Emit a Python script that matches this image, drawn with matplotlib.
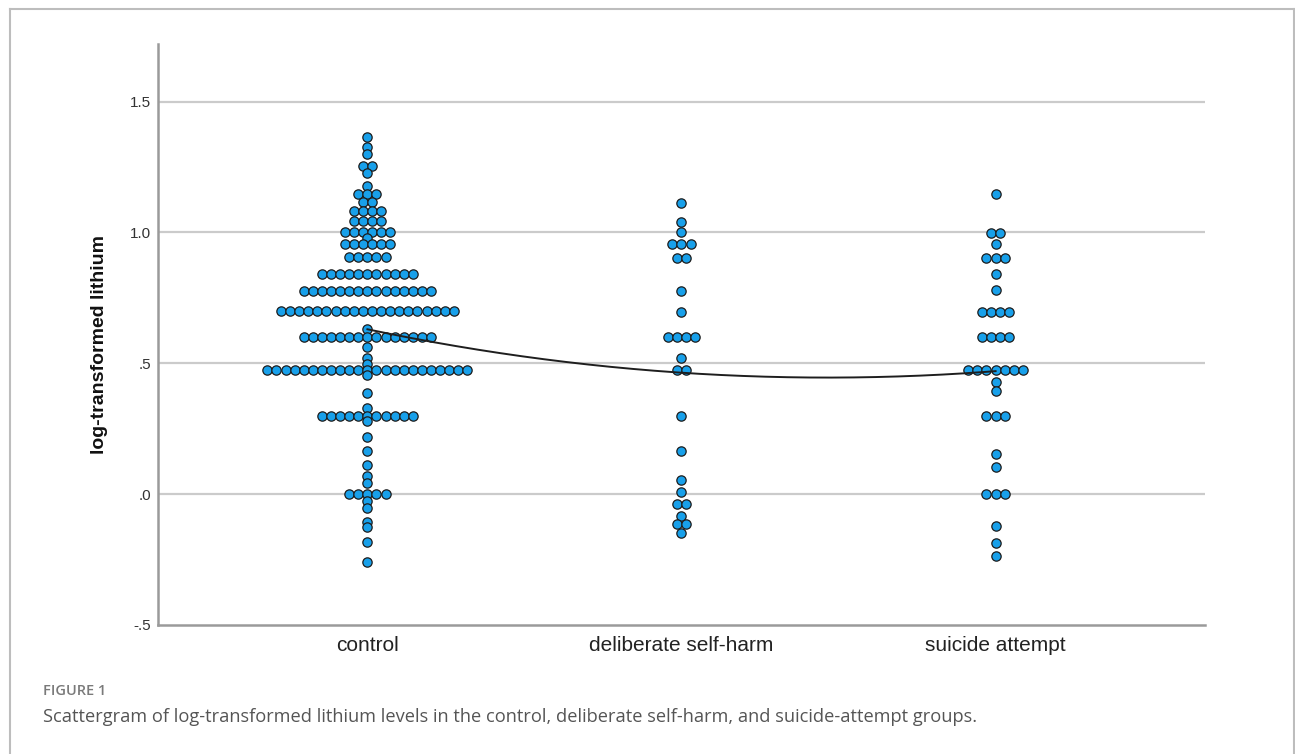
import numpy as np
import matplotlib
matplotlib.use("Agg")
import matplotlib.pyplot as plt
from matplotlib.lines import Line2D

# ---------------- data ----------------
categories = ["control", "deliberate self-harm", "suicide attempt"]

control_values = [1.363, 1.327, 1.301, 1.254, 1.229, 1.178, 1.146, 1.117, 1.083, 1.044,
                  1.000, 0.977, 0.954, 0.905, 0.843, 0.776, 0.700, 0.630, 0.602, 0.563,
                  0.519, 0.497, 0.474, 0.455, 0.385, 0.328, 0.299, 0.280, 0.218, 0.165,
                  0.112, 0.070, 0.044, 0.000, -0.028, -0.053, -0.108, -0.124, -0.181, -0.261]
control_counts = [1, 1, 1, 2, 1, 1, 3, 2, 4, 4,
                  6, 1, 6, 5, 11, 15, 20, 1, 15, 1,
                  1, 1, 23, 1, 1, 1, 11, 1, 1, 1,
                  1, 1, 1, 5, 1, 1, 1, 1, 1, 1]

selfharm_values = [1.113, 1.040, 1.000, 0.954, 0.901, 0.777, 0.697, 0.602, 0.521, 0.474,
                   0.299, 0.166, 0.055, 0.010, -0.037, -0.085, -0.115, -0.149]
selfharm_counts = [1, 1, 1, 3, 2, 1, 1, 4, 1, 2,
                   1, 1, 1, 1, 2, 1, 2, 1]

suicide_values = [1.145, 0.999, 0.955, 0.901, 0.841, 0.780, 0.697, 0.602, 0.474, 0.430,
                  0.395, 0.299, 0.154, 0.105, 0.001, -0.121, -0.185, -0.235]
suicide_counts = [1, 2, 1, 3, 1, 1, 4, 4, 7, 1,
                  1, 3, 1, 1, 3, 1, 1, 1]

group_means = [0.630, 0.464, 0.470]   # interpolation line through group means

yticks = [-0.5, 0.0, 0.5, 1.0, 1.5]
ytick_labels = ["-.5", ".0", ".5", "1.0", "1.5"]

# ---------------- figure ----------------
W, H, DPI = 1295, 754, 100
fig = plt.figure(figsize=(W / DPI, H / DPI), dpi=DPI)
fig.patch.set_facecolor("white")

ax_l, ax_r, ax_t, ax_b = 158, 1205, 44, 625
ax = fig.add_axes([ax_l / W, 1 - ax_b / H, (ax_r - ax_l) / W, (ax_b - ax_t) / H])

xlim = (1 - 1 / 0.3 * 0.2, 1 - 1 / 0.3 * 0.2 + 1 / 0.3)
ax.set_xlim(*xlim)
ax.set_ylim(-0.5, 1.72)

# gridlines
for yv in yticks[1:]:
    ax.axhline(yv, color="#cbcbcb", lw=1.6, zorder=0)

# dots
dot_px = 9.1
spacing = dot_px * (xlim[1] - xlim[0]) / (ax_r - ax_l)
groups = [(control_values, control_counts),
          (selfharm_values, selfharm_counts),
          (suicide_values, suicide_counts)]
for gi, (vals, cnts) in enumerate(groups):
    xs, ys = [], []
    for v, n in zip(vals, cnts):
        offs = (np.arange(n) - (n - 1) / 2) * spacing
        xs.extend(gi + 1 + offs)
        ys.extend([v] * n)
    ax.plot(xs, ys, "o", ms=6.7, mfc="#18a0ea", mec="#1c1c1c", mew=0.9,
            ls="none", zorder=3)

# interpolation line through the group means
xpos = np.arange(1, len(group_means) + 1)
coef = np.polyfit(xpos, group_means, 2)
xx = np.linspace(1, 3, 200)
ax.plot(xx, np.polyval(coef, xx), color="#1e1e1e", lw=1.4, zorder=4)

# axes styling
for s in ["top", "right"]:
    ax.spines[s].set_visible(False)
for s in ["left", "bottom"]:
    ax.spines[s].set_color("#9a9a9a")
    ax.spines[s].set_linewidth(1.8)
ax.set_yticks(yticks)
ax.set_yticklabels(ytick_labels, fontsize=11, color="#333333", family="Liberation Sans")
ax.set_xticks(xpos)
ax.set_xticklabels(categories, fontsize=15, color="#222222", family="Liberation Sans")
ax.tick_params(axis="y", length=0, pad=5)
ax.tick_params(axis="x", length=0, pad=8)

fig.text(100 / W, 1 - 345 / H, "log-transformed lithium", rotation=90,
         ha="center", va="center", fontsize=14, fontweight="bold",
         family="Liberation Sans", color="#111111")

# outer frame
frame_c = "#bdbdbd"
fig.add_artist(Line2D([10 / W, 10 / W], [0, 1 - 9 / H], transform=fig.transFigure,
                      color=frame_c, lw=1.5))
fig.add_artist(Line2D([10 / W, 1294 / W], [1 - 9 / H, 1 - 9 / H], transform=fig.transFigure,
                      color=frame_c, lw=1.5))
fig.add_artist(Line2D([1294 / W, 1294 / W], [0, 1 - 9 / H], transform=fig.transFigure,
                      color=frame_c, lw=1.5))

# caption
fig.text(43 / W, 1 - 691 / H, "FIGURE 1", ha="left", va="center", fontsize=10.5,
         fontweight="semibold", family="Open Sans", color="#7a7a7a")
cap = fig.text(43 / W, 1 - 717 / H,
               "Scattergram of log-transformed lithium levels in the control, "
               "deliberate self-harm, and suicide-attempt groups.",
               ha="left", va="center", fontsize=12.5, family="Open Sans", color="#555555")
fig.canvas.draw()
bb = cap.get_window_extent(fig.canvas.get_renderer())
cap.set_fontsize(12.5 * 939 / bb.width)

fig.savefig("out.png", dpi=DPI)
